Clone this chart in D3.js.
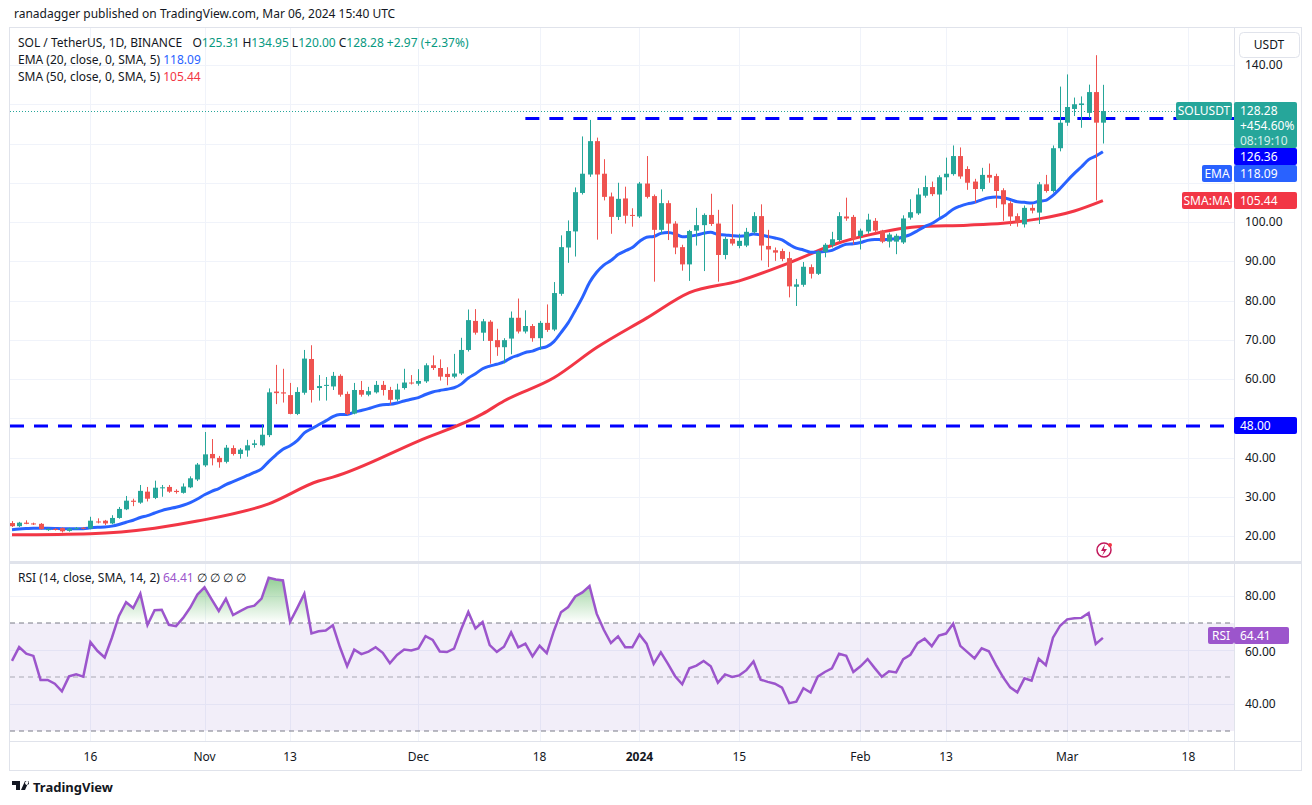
<!DOCTYPE html>
<html><head><meta charset="utf-8">
<script src="https://cdn.jsdelivr.net/npm/d3@7"></script>
<style>body{margin:0;background:#fff;font-family:"Noto Sans",Roboto,sans-serif}</style>
</head><body><svg id="c" width="1312" height="805"></svg>
<script>
const startDate = "2023-10-05";
// [open, high, low, close]
const ohlc = [
[23.3,23.8,22.3,22.5],[22.5,23.6,22.3,23.4],[23.4,24.0,23.0,23.1],[23.2,23.4,22.8,23.0],[23.1,23.3,21.6,21.8],
[21.5,22.0,21.3,21.8],[21.8,22.0,21.4,21.6],[22.0,22.2,20.9,21.2],[21.3,22.1,21.1,21.9],[21.9,22.3,21.7,22.0],
[22.1,22.3,21.7,21.9],[21.9,24.9,21.7,23.9],[23.7,24.5,23.2,23.5],[23.9,24.1,22.8,23.2],[23.2,25.3,23.0,24.6],
[24.6,27.4,24.4,26.9],[26.8,30.2,26.6,29.0],[29.0,29.5,27.6,28.7],[28.5,33.0,28.2,31.5],[31.3,32.5,28.8,29.5],
[29.7,34.1,29.4,32.3],[32.2,33.0,30.0,32.4],[32.5,33.0,31.0,31.3],[31.5,31.9,30.8,31.2],[31.0,33.4,30.8,32.6],
[32.4,35.2,32.2,34.7],[34.4,38.6,34.0,38.2],[38.0,46.5,37.6,40.8],[40.9,44.7,38.0,39.8],[39.9,40.4,37.4,38.8],
[38.9,43.2,38.5,42.5],[42.4,43.1,40.5,40.9],[40.9,42.4,39.7,42.0],[41.8,44.5,40.2,43.1],[43.2,44.5,42.5,43.6],
[43.1,48.5,42.8,45.8],[45.7,57.6,45.2,56.6],[56.8,63.6,53.6,56.4],[56.6,62.6,54.0,56.3],[55.9,59.0,51.0,51.1],
[51.1,57.9,50.8,56.7],[56.5,67.4,56.0,65.2],[65.1,68.6,54.0,57.2],[57.7,61.0,54.5,58.2],[58.3,60.5,54.5,58.5],
[58.1,61.8,57.2,60.8],[60.8,61.2,55.5,56.0],[56.2,56.8,50.8,51.1],[51.2,59.0,51.0,57.2],[57.2,59.5,55.5,56.0],
[56.0,58.0,55.6,56.9],[56.6,59.5,56.3,58.5],[58.5,59.5,55.8,57.2],[57.2,58.0,53.5,54.7],[54.8,58.8,54.3,57.3],
[57.7,62.6,57.3,59.1],[59.1,61.0,58.6,58.9],[58.8,62.5,58.3,59.5],[59.4,64.0,59.0,63.5],[63.5,66.0,62.3,62.8],
[62.8,65.0,59.6,60.6],[61.3,63.0,58.4,60.5],[60.6,66.4,60.2,61.4],[61.4,70.5,61.0,67.4],[67.4,77.7,67.0,75.0],
[74.8,77.8,71.3,71.8],[71.8,75.3,69.7,74.7],[74.6,75.0,63.9,69.7],[69.9,72.8,65.9,68.1],[68.1,70.4,64.0,69.9],
[70.3,77.2,66.3,75.6],[75.6,80.5,71.6,72.1],[72.1,77.5,71.6,73.5],[73.5,74.0,69.5,70.4],[70.4,74.8,67.4,74.3],
[74.3,79.0,72.0,72.5],[72.6,84.7,72.2,81.9],[81.7,96.6,81.2,93.6],[93.5,100.4,89.6,97.7],[97.6,108.8,91.2,107.6],
[107.4,121.8,107.0,112.3],[112.1,126.0,111.5,120.6],[120.6,121.5,95.5,112.1],[112.3,116.0,105.5,106.4],[106.5,107.5,97.0,101.3],
[101.3,110.0,100.5,105.9],[106.0,109.0,99.6,101.6],[101.8,103.5,98.8,101.6],[101.4,110.2,101.0,109.8],[109.8,116.8,106.0,106.4],
[106.6,107.0,84.8,98.0],[98.0,108.3,97.0,104.8],[104.8,105.5,95.4,99.6],[99.6,100.2,91.8,93.5],[93.6,94.2,87.6,89.2],
[89.2,98.0,85.0,97.7],[97.8,103.6,94.0,99.2],[99.2,102.2,87.5,101.8],[101.8,107.2,99.0,99.5],[99.6,103.1,84.8,91.6],
[91.6,96.2,90.5,95.7],[95.7,104.5,94.0,94.5],[93.9,97.0,93.3,95.2],[94.0,98.5,93.6,97.5],[97.4,102.5,97.0,101.5],
[101.5,104.5,90.2,94.0],[93.9,98.0,88.5,93.0],[92.8,93.5,90.1,92.2],[92.6,93.2,90.0,90.6],[90.8,92.4,80.8,83.6],
[83.5,85.5,78.6,84.1],[84.0,89.8,83.5,88.6],[88.5,89.2,85.6,86.8],[86.8,92.8,86.5,92.4],[92.4,94.6,91.0,94.2],
[94.1,97.5,93.5,95.6],[95.4,102.5,95.0,101.5],[101.4,106.2,100.3,100.9],[101.3,101.8,94.3,95.7],[96.4,98.3,93.0,97.8],
[97.6,102.1,97.0,100.6],[100.3,101.0,97.2,97.8],[97.8,98.0,94.6,95.0],[95.0,97.3,93.5,96.8],[95.0,97.0,91.8,96.5],
[94.8,101.7,94.4,100.9],[101.1,105.8,100.6,102.5],[102.2,108.6,101.8,107.0],[106.7,111.8,106.2,108.9],[108.9,110.3,106.6,107.1],
[107.0,111.9,101.3,111.4],[111.4,116.4,108.0,112.3],[112.2,119.5,111.8,116.8],[116.8,119.0,111.0,111.6],[113.5,114.2,108.2,110.0],
[110.3,111.0,104.9,108.4],[108.4,113.8,107.8,112.0],[112.0,114.9,110.0,111.3],[111.7,112.3,103.6,107.9],[108.1,108.6,100.3,104.5],
[104.8,105.3,99.0,101.4],[101.5,102.2,98.8,99.8],[99.4,104.2,98.6,103.6],[103.6,104.5,102.2,102.9],[102.4,110.2,99.5,109.6],
[109.6,112.0,107.5,107.9],[107.9,119.5,107.5,118.8],[118.8,134.5,118.0,125.3],[125.3,137.6,124.5,129.3],[128.8,131.7,127.0,130.0],
[129.8,132.0,124.0,130.2],[127.8,135.0,126.5,133.1],[133.1,142.5,105.5,125.31],[125.31,134.95,120.0,128.28]
];
// SMA(50) at candle indices
const smaIdx = [0,11,20,26,36,43,45,57,66,69,76,82,89,95,102,109,116,119,127,134,139,144,149,153];
const smaVal = [20.3,20.6,22.0,23.8,28.2,34.0,35.0,44.2,51.1,54.4,60.3,68.0,75.5,82.0,85.0,89.6,94.7,96.2,98.8,99.2,99.7,100.8,102.8,105.44];
const emaSeed = 21.5;
const rsiSeed = [0.32, 0.19];
const priceTicks = [20,30,40,50,60,70,80,90,100,110,120,130,140];
const hiddenTicks = [50,110,120,130]; // covered by price labels
const rsiTicks = [40,60,80];
const timeTicks = [["2023-10-16","16"],["2023-11-01","Nov"],["2023-11-13","13"],["2023-12-01","Dec"],["2023-12-18","18"],["2024-01-01","2024"],["2024-01-15","15"],["2024-02-01","Feb"],["2024-02-13","13"],["2024-03-01","Mar"],["2024-03-18","18"]];
const resistance = 126.36, support = 48.00;

const svg = d3.select("#c");
const day = 864e5;
const t0 = new Date(startDate+"T00:00:00Z");
const dateOf = i => new Date(+t0 + i*day);
const x = d3.scaleUtc().domain([t0, dateOf(153)]).range([12, 12+7.13*153]);
const y = d3.scaleLinear().domain([20,140]).range([536,65]);
const yr = d3.scaleLinear().domain([40,80]).range([704,596]);
const L=10, R=1234;

svg.append("rect").attr("x",9.5).attr("y",27.5).attr("width",1292).attr("height",743).attr("fill","none").attr("stroke","#e0e3eb");
svg.append("line").attr("x1",R+.5).attr("x2",R+.5).attr("y1",28).attr("y2",770).attr("stroke","#e0e3eb");
svg.append("line").attr("x1",L).attr("x2",1302).attr("y1",562.5).attr("y2",562.5).attr("stroke","#e0e3eb").attr("stroke-width",3);
svg.append("line").attr("x1",L).attr("x2",1302).attr("y1",741.5).attr("y2",741.5).attr("stroke","#e0e3eb");

const g = svg.append("g");
timeTicks.forEach(([d])=>{const xx=Math.round(x(new Date(d+"T00:00:00Z")))+.5;
  g.append("line").attr("x1",xx).attr("x2",xx).attr("y1",28).attr("y2",561).attr("stroke","#f0f3fa");
  g.append("line").attr("x1",xx).attr("x2",xx).attr("y1",564).attr("y2",741).attr("stroke","#f0f3fa");});
priceTicks.forEach(v=>g.append("line").attr("x1",L).attr("x2",R).attr("y1",Math.round(y(v))+.5).attr("y2",Math.round(y(v))+.5).attr("stroke","#f0f3fa"));
[40,60,80].forEach(v=>g.append("line").attr("x1",L).attr("x2",R).attr("y1",Math.round(yr(v))+.5).attr("y2",Math.round(yr(v))+.5).attr("stroke","#f0f3fa"));

const ax = svg.append("g").attr("font-size",12).attr("fill","#131722");
priceTicks.filter(v=>!hiddenTicks.includes(v)).forEach(v=>ax.append("text").attr("x",1245).attr("y",y(v)+4).text(v.toFixed(2)));
rsiTicks.forEach(v=>ax.append("text").attr("x",1245).attr("y",yr(v)+(v===60?6:4)).text(v.toFixed(2)));
timeTicks.forEach(([d,l])=>ax.append("text").attr("x",x(new Date(d+"T00:00:00Z"))).attr("y",761).attr("text-anchor","middle").attr("font-weight",l==="2024"?"bold":"normal").text(l));

svg.append("line").attr("x1",L).attr("x2",R).attr("y1",y(support)).attr("y2",y(support)).attr("stroke","#0000ff").attr("stroke-width",3).attr("stroke-dasharray","14 10");
svg.append("line").attr("x1",x(dateOf(72))).attr("x2",R).attr("y1",y(resistance)).attr("y2",y(resistance)).attr("stroke","#0000ff").attr("stroke-width",3).attr("stroke-dasharray","14 10");
const last = ohlc[ohlc.length-1][3];
svg.append("line").attr("x1",L).attr("x2",R).attr("y1",y(last)+.5).attr("y2",y(last)+.5).attr("stroke","#26a69a").attr("stroke-dasharray","1 2");

const closes = ohlc.map(d=>d[3]);
let e=emaSeed; const ema = closes.map(c=>(e = e + (2/21)*(c-e)));
const line = d3.line().x(d=>x(dateOf(d[0]))).y(d=>y(d[1])).curve(d3.curveMonotoneX);
svg.append("path").attr("d",line(smaIdx.map((k,j)=>[k,smaVal[j]]))).attr("fill","none").attr("stroke","#f23645").attr("stroke-width",3);
svg.append("path").attr("d",line(ema.map((v,i)=>[i,v]))).attr("fill","none").attr("stroke","#2962ff").attr("stroke-width",3);

const cg = svg.append("g");
ohlc.forEach((d,i)=>{const [o,h,l,c]=d; const col=c>=o?"#26a69a":"#ef5350"; const xx=Math.round(x(dateOf(i)));
  cg.append("line").attr("x1",xx+.5).attr("x2",xx+.5).attr("y1",y(h)).attr("y2",y(l)).attr("stroke",col);
  const top=y(Math.max(o,c)), bot=y(Math.min(o,c));
  cg.append("rect").attr("x",xx-2).attr("y",top).attr("width",5).attr("height",Math.max(1,bot-top)).attr("fill",col);});

let [ag,al]=rsiSeed; const rsi=[];
closes.forEach((c,i)=>{const p=i?closes[i-1]:ohlc[0][0]; const ch=c-p;
  ag=(ag*13+Math.max(ch,0))/14; al=(al*13+Math.max(-ch,0))/14; rsi.push(100-100/(1+ag/al));});
svg.append("rect").attr("x",L).attr("y",yr(70)).attr("width",R-L).attr("height",yr(30)-yr(70)).attr("fill","#7e57c2").attr("opacity",0.1);
[70,50,30].forEach(v=>svg.append("line").attr("x1",L).attr("x2",R).attr("y1",yr(v)).attr("y2",yr(v)).attr("stroke","#787b86").attr("stroke-dasharray","5 4").attr("opacity",v===50?0.6:1));
const defs=svg.append("defs");
const gr=defs.append("linearGradient").attr("id","ob").attr("x1",0).attr("x2",0).attr("y1",0).attr("y2",1);
gr.append("stop").attr("offset","0%").attr("stop-color","#4caf50").attr("stop-opacity",0.6);
gr.append("stop").attr("offset","100%").attr("stop-color","#4caf50").attr("stop-opacity",0);
defs.append("clipPath").attr("id","above").append("rect").attr("x",L).attr("y",565).attr("width",R-L).attr("height",yr(70)-565);
svg.append("path").attr("clip-path","url(#above)").attr("d",d3.area().x((d,i)=>x(dateOf(i))).y0(yr(70)).y1(d=>Math.min(yr(d),yr(70)))(rsi)).attr("fill","url(#ob)");
svg.append("path").attr("d",d3.line().x((d,i)=>x(dateOf(i))).y(d=>yr(d))(rsi)).attr("fill","none").attr("stroke","#9c55cc").attr("stroke-width",2.5);

const lg=svg.append("g").attr("font-size",12).attr("fill","#131722");
const t1=lg.append("text").attr("x",18).attr("y",47).attr("xml:space","preserve");
t1.append("tspan").text("SOL / TetherUS, 1D, BINANCE  ");
const o=ohlc[153], prev=ohlc[152][3];
[["O",o[0]],["H",o[1]],["L",o[2]],["C",o[3]]].forEach(([k,v],j)=>{t1.append("tspan").attr("dx",j?3:4).text(k);t1.append("tspan").attr("fill","#089981").text(v.toFixed(2));});
t1.append("tspan").attr("fill","#089981").attr("dx",3).text(`+${(o[3]-prev).toFixed(2)} (+${((o[3]-prev)/prev*100).toFixed(2)}%)`);
const t2=lg.append("text").attr("x",18).attr("y",64); t2.append("tspan").text("EMA (20, close, 0, SMA, 5) "); t2.append("tspan").attr("fill","#2962ff").text("118.09");
const t3=lg.append("text").attr("x",18).attr("y",81); t3.append("tspan").text("SMA (50, close, 0, SMA, 5) "); t3.append("tspan").attr("fill","#f23645").text("105.44");
const t4=lg.append("text").attr("x",18).attr("y",582); t4.append("tspan").text("RSI (14, close, SMA, 14, 2) "); t4.append("tspan").attr("fill","#9c55cc").text("64.41"); t4.append("tspan").text("  ∅  ∅  ∅  ∅");
svg.append("text").attr("x",14).attr("y",18).attr("font-size",12).attr("fill","#131722").text("ranadagger published on TradingView.com, Mar 06, 2024 15:40 UTC");

function box(x0,y0,w,h,fill,lines,col,anchor){svg.append("rect").attr("x",x0).attr("y",y0).attr("width",w).attr("height",h).attr("rx",2).attr("fill",fill);
  lines.forEach((t,k)=>svg.append("text").attr("x",anchor==="m"?x0+w/2:x0+6).attr("y",y0+13+k*15).attr("text-anchor",anchor==="m"?"middle":"start").attr("font-size",12).attr("fill",col[k]||col[0]).text(t));}
svg.append("rect").attr("x",1239.5).attr("y",32.5).attr("width",60).attr("height",25).attr("rx",4).attr("fill","#fff").attr("stroke","#e0e3eb");
svg.append("text").attr("x",1269).attr("y",49).attr("text-anchor","middle").attr("font-size",12).attr("fill","#131722").text("USDT");
box(1176,102,56,18,"#26a69a",["SOLUSDT"],["#fff"],"m");
box(1234,102,63,46,"#26a69a",[last.toFixed(2),"+454.60%","08:19:10"],["#fff","#fff","#d4f0ec"],"s");
box(1234,148,63,17,"#0000ff",[resistance.toFixed(2)],["#fff"],"s");
box(1202,165,30,17,"#2962ff",["EMA"],["#fff"],"m");
box(1234,165,63,17,"#2962ff",["118.09"],["#fff"],"s");
box(1182,192,50,17,"#f23645",["SMA:MA"],["#fff"],"m");
box(1234,192,63,17,"#f23645",["105.44"],["#fff"],"s");
box(1234,417,63,17,"#0000ff",[support.toFixed(2)],["#fff"],"s");
box(1208,627,26,17,"#9c55cc",["RSI"],["#fff"],"m");
box(1234,627,55,17,"#9c55cc",["64.41"],["#fff"],"s");

svg.append("circle").attr("cx",1104).attr("cy",550).attr("r",7).attr("fill","none").attr("stroke","#c2185b").attr("stroke-width",1.5);
svg.append("path").attr("d","M1105,544 L1101,551 L1104,551 L1102,556 L1107,549 L1104,549 Z").attr("fill","#c2185b");
svg.append("circle").attr("cx",1110).attr("cy",545).attr("r",2).attr("fill","#f23645");

svg.append("path").attr("d","M12,781 h8 v9 h-4 v-5 h-4 z M21,790 l4,-9 h4 l-4,9 z M27,781 a2,2 0 1,0 0.1,0").attr("fill","#131722");
svg.append("text").attr("x",33).attr("y",792).attr("font-size",13).attr("font-weight","bold").attr("fill","#131722").text("TradingView");
</script></body></html>
